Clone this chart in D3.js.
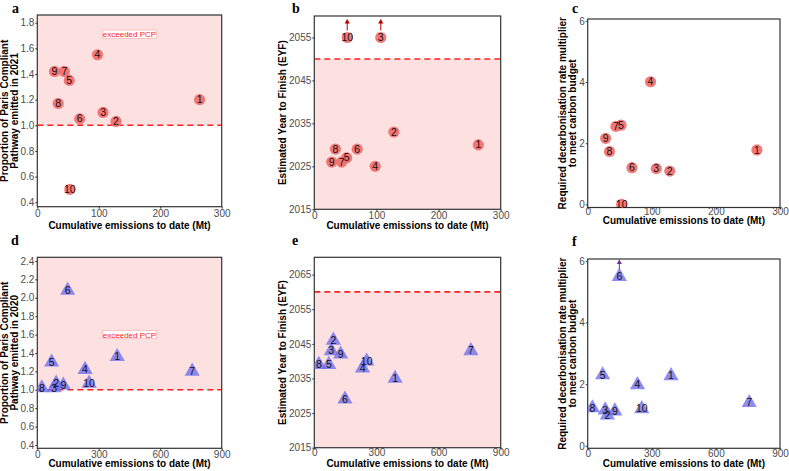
<!DOCTYPE html>
<html>
<head>
<meta charset="utf-8">
<script src="https://cdn.jsdelivr.net/npm/d3@7"></script>
<style>
  body { margin: 0; background: white; }
  text { font-family: "Liberation Sans", Arial, sans-serif; }
</style>
</head>
<body>
<div id="chart"></div>
<script>
// data
var ids = ["1", "2", "3", "4", "5", "6", "7", "8", "9", "10"];

// 2021 panels (a, b, c)
var cum2021  = [264, 128, 107, 98, 52, 69, 44, 34, 28, 53];
var pcp2021  = [1.20, 1.03, 1.10, 1.55, 1.35, 1.05, 1.42, 1.17, 1.42, 0.50];
var eyf2021  = [2030, 2033, 2055, 2025, 2027, 2029, 2026, 2029, 2026, 2055];
var off2021  = [false, false, true, false, false, false, false, false, false, true]; // off the chart, drawn with arrow
var mult2021 = [1.78, 1.09, 1.17, 4.01, 2.59, 1.20, 2.55, 1.73, 2.16, 0.0];

// 2020 panels (d, e, f)
var cum2020  = [390, 92, 82, 233, 70, 148, 756, 22, 127, 253];
var pcp2020  = [1.36, 1.07, 1.02, 1.22, 1.30, 2.08, 1.20, 1.02, 1.05, 1.07];
var eyf2020  = [2035, 2046, 2043, 2038, 2039, 2029, 2043, 2039, 2042, 2040];
var mult2020 = [2.27, 1.00, 1.16, 1.98, 2.30, 5.49, 1.40, 1.23, 1.13, 1.20];
var off2020m = [false, false, false, false, false, true, false, false, false, false];

var ticksPCP = [0.4, 0.6, 0.8, 1.0, 1.2, 1.4, 1.6, 1.8, 2.0, 2.2, 2.4];
var xTitle = "Cumulative emissions to date (Mt)";

var w = 789, h = 471;
var svg = d3.select("#chart").append("svg")
    .attr("width", w).attr("height", h);

function rows(xs, ys, off) {
    return ids.map(function(id, i) {
        return {id: id, x: xs[i], y: ys[i], off: off ? off[i] : false};
    });
}

var panels = [
    {letter: "a", lx: 12, ly: 12.5, left: 37.3, right: 221.7, top: 15, bottom: 206.7,
     xDomain: [0, 300], xTicks: [0, 100, 200, 300], yDomain: [0.365, 1.86],
     yTicks: ticksPCP.filter(function(t){ return t <= 1.8; }), yFmt: d3.format(".1f"),
     shade: [1.0, 1.86], ref: 1.0, note: [150, 1.71],
     yTitle: ["Proportion of Paris Compliant", "Pathway emitted in 2021"], tx: 7.8,
     xLab: 10.5, xTit: 22, shape: "circle", data: rows(cum2021, pcp2021)},
    {letter: "b", lx: 292, ly: 12.5, left: 314.3, right: 500.7, top: 16, bottom: 209.3,
     xDomain: [0, 300], xTicks: [0, 100, 200, 300], yDomain: [2015, 2060],
     yTicks: [2015, 2025, 2035, 2045, 2055], yFmt: d3.format("d"),
     shade: [2015, 2050], ref: 2050,
     yTitle: ["Estimated Year to Finish (EYF)"], tx: 286,
     xLab: 9.5, xTit: 19.5, shape: "circle", data: rows(cum2021, eyf2021, off2021),
     arrow: "#b30000", arrowTop: 19},
    {letter: "c", lx: 572, ly: 13, left: 587.7, right: 780, top: 19, bottom: 207.5,
     xDomain: [0, 300], xTicks: [0, 100, 200, 300], yDomain: [-0.1, 6.06],
     yTicks: [0, 2, 4, 6], yFmt: d3.format("d"),
     yTitle: ["Required decarbonisation rate multiplier", "to meet carbon budget"], tx: 566,
     xLab: 7.5, xTit: 16.5, shape: "circle", data: rows(cum2021, mult2021)},
    {letter: "d", lx: 11, ly: 245, left: 37.3, right: 221.7, top: 257.3, bottom: 448.3,
     xDomain: [0, 900], xTicks: [0, 300, 600, 900], yDomain: [0.364, 2.44],
     yTicks: ticksPCP, yFmt: d3.format(".1f"),
     shade: [1.0, 2.44], ref: 1.0, note: [450, 1.6],
     yTitle: ["Proportion of Paris Compliant", "Pathway emitted in 2020"], tx: 7.8,
     xLab: 10, xTit: 19, shape: "triangle", data: rows(cum2020, pcp2020)},
    {letter: "e", lx: 292, ly: 245, left: 314.3, right: 500.7, top: 257.3, bottom: 447.7,
     xDomain: [0, 900], xTicks: [0, 300, 600, 900], yDomain: [2015, 2070],
     yTicks: [2015, 2025, 2035, 2045, 2055, 2065], yFmt: d3.format("d"),
     shade: [2015, 2060], ref: 2060,
     yTitle: ["Estimated Year to Finish (EYF)"], tx: 286,
     xLab: 8, xTit: 19, shape: "triangle", data: rows(cum2020, eyf2020)},
    {letter: "f", lx: 572, ly: 246, left: 587.7, right: 780, top: 259, bottom: 448.3,
     xDomain: [0, 900], xTicks: [0, 300, 600, 900], yDomain: [-0.08, 6.06],
     yTicks: [0, 2, 4, 6], yFmt: d3.format("d"),
     yTitle: ["Required decarbonisation rate multiplier", "to meet carbon budget"], tx: 566,
     xLab: 9, xTit: 18.5, shape: "triangle", data: rows(cum2020, mult2020, off2020m),
     arrow: "#7030a0", arrowTop: 259.5}
];

function drawPanel(p, k) {
    var g = svg.append("g");
    var x = d3.scaleLinear().domain(p.xDomain).range([p.left, p.right]);
    var y = d3.scaleLinear().domain(p.yDomain).range([p.bottom, p.top]);

    g.append("clipPath").attr("id", "clip" + k)
        .append("rect")
        .attr("x", p.left).attr("y", p.top)
        .attr("width", p.right - p.left).attr("height", p.bottom - p.top);

    // shaded region = exceeded
    if (p.shade) {
        g.append("rect")
            .attr("x", p.left).attr("width", p.right - p.left)
            .attr("y", y(p.shade[1])).attr("height", y(p.shade[0]) - y(p.shade[1]))
            .attr("fill", "#fde0e0");
    }
    if (p.ref !== undefined) {
        g.append("line")
            .attr("x1", p.left).attr("x2", p.right)
            .attr("y1", y(p.ref)).attr("y2", y(p.ref))
            .attr("stroke", "#ff1f1f").attr("stroke-width", 1.6)
            .attr("stroke-dasharray", "6,4");
    }

    // axes
    var ya = g.append("g").attr("transform", "translate(" + p.left + ",0)")
        .call(d3.axisLeft(y).tickValues(p.yTicks).tickFormat(p.yFmt).tickSize(2).tickPadding(1));
    var xa = g.append("g").attr("transform", "translate(0," + p.bottom + ")")
        .call(d3.axisBottom(x).tickValues(p.xTicks).tickSize(2));
    [ya, xa].forEach(function(a) {
        a.select(".domain").remove();
        a.selectAll("line").attr("stroke", "#333");
        a.selectAll("text").attr("fill", "#4d4d4d")
            .style("font-family", "Liberation Sans, Arial, sans-serif").style("font-size", "10px");
    });
    xa.selectAll("text").attr("y", p.xLab).attr("dy", null);

    g.append("rect")
        .attr("x", p.left).attr("y", p.top)
        .attr("width", p.right - p.left).attr("height", p.bottom - p.top)
        .attr("fill", "none").attr("stroke", "#333").attr("stroke-width", 1.2);

    // titles
    g.append("text")
        .attr("x", (p.left + p.right) / 2).attr("y", p.bottom + p.xTit)
        .attr("text-anchor", "middle").attr("font-weight", "bold").attr("font-size", 10)
        .text(xTitle);
    var yt = g.append("text")
        .attr("transform", "translate(" + p.tx + "," + (p.top + p.bottom) / 2 + ") rotate(-90)")
        .attr("text-anchor", "middle").attr("font-weight", "bold").attr("font-size", 10);
    p.yTitle.forEach(function(s, i) {
        yt.append("tspan").attr("x", 0).attr("dy", i === 0 ? 0 : 10.2).text(s);
    });
    g.append("text")
        .attr("x", p.lx).attr("y", p.ly)
        .style("font-family", "Liberation Serif, serif")
        .attr("font-weight", "bold").attr("font-size", 14)
        .text(p.letter);

    if (p.note) {
        var nx = x(p.note[0]), ny = y(p.note[1]);
        g.append("rect")
            .attr("x", nx - 27).attr("y", ny - 4.2).attr("width", 54).attr("height", 8.4)
            .attr("fill", "white").attr("stroke", "#f5a3a3").attr("stroke-width", 0.6);
        g.append("text")
            .attr("x", nx).attr("y", ny + 3)
            .attr("text-anchor", "middle").attr("font-size", 8).attr("fill", "#ff1a1a")
            .text("exceeded PCP");
    }

    // markers
    var mk = g.append("g").attr("clip-path", "url(#clip" + k + ")");
    if (p.shape === "circle") {
        mk.selectAll("circle").data(p.data).enter().append("circle")
            .attr("cx", function(d) { return x(d.x); })
            .attr("cy", function(d) { return y(d.y); })
            .attr("r", 5.6)
            .attr("fill", "#f26a6a").attr("fill-opacity", 0.9);
    } else {
        mk.selectAll("path").data(p.data).enter().append("path")
            .attr("d", d3.symbol().type(d3.symbolTriangle).size(100))
            .attr("transform", function(d) { return "translate(" + x(d.x) + "," + y(d.y) + ")"; })
            .attr("fill", "#6f6ff0").attr("fill-opacity", 0.8);
    }

    // arrows for points beyond the axis
    if (p.arrow) {
        p.data.filter(function(d) { return d.off; }).forEach(function(d) {
            var ax = x(d.x), y0 = y(d.y) - 7, y1 = p.arrowTop;
            g.append("line")
                .attr("x1", ax).attr("x2", ax).attr("y1", y0).attr("y2", y1 + 4)
                .attr("stroke", p.arrow).attr("stroke-width", 1);
            g.append("path")
                .attr("d", "M" + (ax - 2.6) + "," + (y1 + 4.5) + "L" + ax + "," + y1 + "L" + (ax + 2.6) + "," + (y1 + 4.5) + "Z")
                .attr("fill", p.arrow);
        });
    }

    g.selectAll("text.lab").data(p.data).enter().append("text")
        .attr("class", "lab")
        .attr("x", function(d) { return x(d.x); })
        .attr("y", function(d) { return y(d.y) + 3.6; })
        .attr("text-anchor", "middle").attr("font-size", 10.5).attr("fill", "#111")
        .text(function(d) { return d.id; });
}

panels.forEach(drawPanel);
</script>
</body>
</html>
